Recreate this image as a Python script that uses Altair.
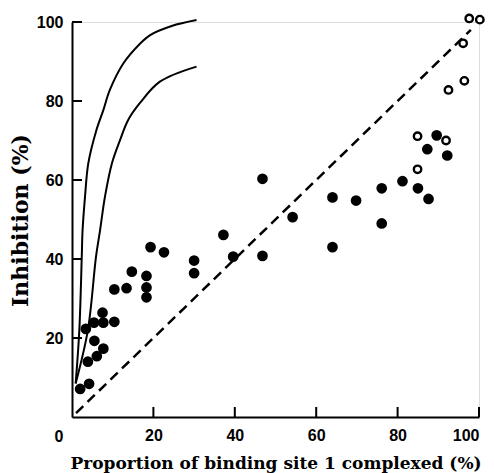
import altair as alt
import pandas as pd

# Filled circles
filled_x = [2.0, 4.2, 3.9, 3.4, 5.4, 5.5, 6.1, 7.5, 7.7, 7.7, 10.4, 10.4, 13.4, 14.7,
            18.3, 18.3, 18.3, 19.3, 22.6, 30.0, 30.0, 37.2, 39.6, 46.8, 54.2, 64.0,
            69.8, 76.1, 76.1, 81.2, 85.0, 87.6, 87.3, 89.6, 92.2, 46.8, 64.0]
filled_y = [7.1, 8.4, 14.0, 22.3, 23.9, 19.3, 15.4, 26.4, 23.9, 17.3, 24.1, 32.3, 32.6, 36.8,
            35.7, 32.8, 30.3, 43.0, 41.7, 39.6, 36.4, 46.1, 40.6, 60.3, 50.6, 55.6,
            54.8, 57.9, 49.0, 59.7, 57.9, 55.2, 67.8, 71.3, 66.2, 40.8, 43.0]

# Open circles
open_x = [84.9, 84.9, 91.9, 92.5, 96.4, 96.1, 97.6, 100.2]
open_y = [71.1, 62.7, 70.0, 82.8, 85.1, 94.6, 100.9, 100.6]

# Theoretical curves
upper_x = [0.9, 1.8, 2.4, 2.6, 3.2, 4.0, 5.9, 7.7, 9.3, 12.6, 16.7, 19.2, 24.5, 30.6]
upper_y = [8.5, 22.0, 40.6, 47.3, 55.8, 64.2, 72.3, 77.7, 82.8, 89.5, 94.5, 96.7, 99.0, 100.5]
lower_x = [0.9, 3.9, 5.9, 6.9, 8.1, 9.8, 11.8, 13.8, 16.7, 21.6, 30.6]
lower_y = [8.5, 22.0, 40.6, 47.3, 55.8, 64.2, 70.1, 75.2, 79.5, 84.9, 88.7]

# Identity line
diag_x = [1, 98]
diag_y = [1, 98]

tick_values = [20, 40, 60, 80, 100]

W, H = 407, 395

xs = alt.Scale(domain=[0, 100], nice=False)
ys = alt.Scale(domain=[0, 100], nice=False)

label_font = "Liberation Sans"
title_font = "DejaVu Serif"

x_axis = alt.Axis(values=tick_values, tickSize=0, labelPadding=10, labelFont=label_font,
                  labelFontSize=16, labelFontWeight="bold", labelColor="black",
                  domainColor="black", domainWidth=2, grid=False,
                  title="Proportion of binding site 1 complexed (%)", titleFont=title_font,
                  titleFontSize=17, titleFontWeight="bold", titleColor="black",
                  titleY=51, titleBaseline="alphabetic")
y_axis = alt.Axis(values=tick_values, tickSize=0, labelPadding=9, labelFont=label_font,
                  labelFontSize=16, labelFontWeight="bold", labelColor="black",
                  domainColor="black", domainWidth=2, grid=False,
                  title="Inhibition (%)", titleFont=title_font,
                  titleFontSize=22, titleFontWeight="bold", titleColor="black",
                  titleX=-40, titleY=198)

df_f = pd.DataFrame({"x": filled_x, "y": filled_y})
df_o = pd.DataFrame({"x": open_x, "y": open_y})
df_u = pd.DataFrame({"x": upper_x, "y": upper_y})
df_l = pd.DataFrame({"x": lower_x, "y": lower_y})
df_d = pd.DataFrame({"x": diag_x, "y": diag_y})
df_t = pd.DataFrame({"v": tick_values})

base_axes = alt.Chart(df_d).mark_point(opacity=0).encode(
    x=alt.X("x:Q", scale=xs, axis=x_axis),
    y=alt.Y("y:Q", scale=ys, axis=y_axis),
)

diag = alt.Chart(df_d).mark_line(color="black", strokeWidth=2.5, strokeDash=[10, 6]).encode(
    x=alt.X("x:Q", scale=xs), y=alt.Y("y:Q", scale=ys))

upper = alt.Chart(df_u).mark_line(color="black", strokeWidth=2, interpolate="catmull-rom").encode(
    x=alt.X("x:Q", scale=xs), y=alt.Y("y:Q", scale=ys), order="x:Q")
lower = alt.Chart(df_l).mark_line(color="black", strokeWidth=2, interpolate="catmull-rom").encode(
    x=alt.X("x:Q", scale=xs), y=alt.Y("y:Q", scale=ys), order="x:Q")

filled = alt.Chart(df_f).mark_circle(color="black", size=115, opacity=1).encode(
    x=alt.X("x:Q", scale=xs), y=alt.Y("y:Q", scale=ys))
opened = alt.Chart(df_o).mark_point(shape="circle", color="black", size=55, strokeWidth=2.4,
                                    filled=False, opacity=1).encode(
    x=alt.X("x:Q", scale=xs), y=alt.Y("y:Q", scale=ys))

xticks = alt.Chart(df_t).mark_rule(color="black", strokeWidth=2).encode(
    x=alt.X("v:Q", scale=xs), y=alt.value(H), y2=alt.value(H - 10))
yticks = alt.Chart(df_t).mark_rule(color="black", strokeWidth=2).encode(
    y=alt.Y("v:Q", scale=ys), x=alt.value(0), x2=alt.value(10))

zero = alt.Chart(pd.DataFrame({"x": [0], "y": [0], "t": ["0"]})).mark_text(
    font=label_font, fontSize=16, fontWeight="bold", color="black", dx=-13, dy=20
).encode(x=alt.X("x:Q", scale=xs), y=alt.Y("y:Q", scale=ys), text="t:N")

chart = alt.layer(base_axes, diag, upper, lower, filled, opened, xticks, yticks, zero).properties(
    width=W, height=H,
    autosize=alt.AutoSizeParams(type="none"),
    padding={"left": 64, "top": 14, "right": 7, "bottom": 56},
).configure_view(stroke=None).configure(background="white")

chart.save("out.html", embed_options={"renderer": "svg", "actions": False})
